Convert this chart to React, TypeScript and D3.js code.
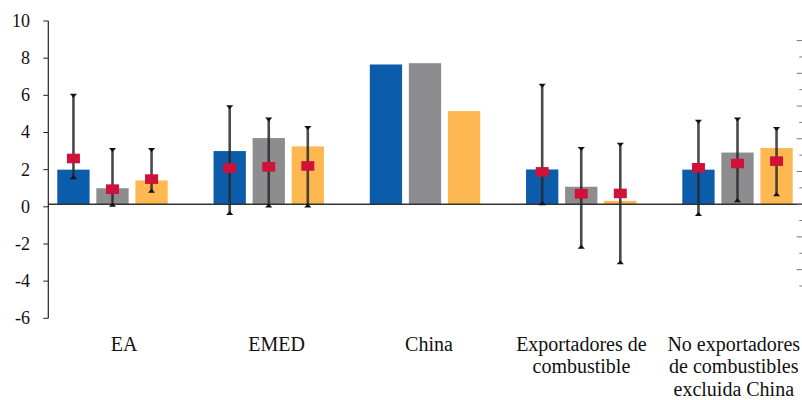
import React from "react";
import * as d3 from "d3";

const categories = ["EA", "EMED", "China", "Exportadores de combustible", "No exportadores de combustibles excluida China"];
const categoryLabelLines = [
  ["EA"],
  ["EMED"],
  ["China"],
  ["Exportadores de", "combustible"],
  ["No exportadores", "de combustibles", "excluida China"],
];
const seriesKeys = ["s1", "s2", "s3"];
const seriesColors = ["#0b5cab", "#8d8d8f", "#fdb851"];

const barValues1 = [2.0, 3.0, 7.66, 2.01, 2.0];
const barValues2 = [1.0, 3.7, 7.73, 1.08, 2.92];
const barValues3 = [1.42, 3.25, 5.15, 0.32, 3.17];

const markerValues1 = [2.6, 2.08, null, 1.88, 2.1];
const markerValues2 = [0.95, 2.15, null, 0.7, 2.33];
const markerValues3 = [1.49, 2.2, null, 0.72, 2.46];

const highValues1 = [6.0, 5.38, null, 6.54, 4.61];
const lowValues1 = [1.56, -0.36, null, 0.16, -0.41];
const highValues2 = [3.09, 4.73, null, 3.14, 4.72];
const lowValues2 = [0.09, 0.05, null, -2.17, 0.32];
const highValues3 = [3.09, 4.27, null, 3.37, 4.21];
const lowValues3 = [0.84, 0.05, null, -3.01, 0.65];

const leftTicks = [-6, -4, -2, 0, 2, 4, 6, 8, 10];
const rightTicks = d3.range(-2.5, 5.01, 0.5);

export default function App() {
  const W = 802, H = 400;
  const y = d3.scaleLinear().domain([-6, 10]).range([318.3, 21]);
  const yR = d3.scaleLinear().domain([-2.5, 5]).range([286, 40.6]);
  const xBars = d3.scaleBand<string>().domain(categories).range([57.3, 57.3 + 781.25]).paddingInner(0).paddingOuter(0);
  const inner = d3.scaleBand<string>().domain(seriesKeys).range([0, 110.4]).paddingInner(0.173).paddingOuter(0);
  const xLabels = d3.scaleBand<string>().domain(categories).range([48, 810]);

  const bars = [barValues1, barValues2, barValues3];
  const markers = [markerValues1, markerValues2, markerValues3];
  const highs = [highValues1, highValues2, highValues3];
  const lows = [lowValues1, lowValues2, lowValues3];
  const base = yR(0);
  const axisX = 48.3;
  const font = "Liberation Serif, DejaVu Serif, Times New Roman, serif";

  return (
    <svg width={W} height={H} style={{ position: "absolute", left: 0, top: 0, background: "#fff" }}>
      {categories.map((c, i) =>
        seriesKeys.map((k, s) => {
          const v = bars[s][i];
          const x0 = (xBars(c) as number) + (inner(k) as number);
          const yt = y(v);
          return (
            <rect key={c + k} x={x0} y={Math.min(yt, base)} width={inner.bandwidth()} height={Math.abs(base - yt)} fill={seriesColors[s]} />
          );
        })
      )}
      <line x1={axisX} x2={W} y1={base} y2={base} stroke="#333" strokeWidth={1.4} />
      <line x1={axisX} x2={axisX} y1={y(10)} y2={y(-6)} stroke="#222" strokeWidth={1.2} />
      {leftTicks.map((t) => (
        <g key={t}>
          <line x1={axisX - 5} x2={axisX} y1={y(t)} y2={y(t)} stroke="#222" strokeWidth={1} />
          <text x={30} y={y(t)} textAnchor="end" dominantBaseline="central" fontFamily={font} fontSize={18} fill="#111">
            {t}
          </text>
        </g>
      ))}
      {rightTicks.map((t, i) => {
        const major = Math.abs(t - Math.round(t)) < 1e-6;
        return (
          <line key={i} x1={major ? 796.7 : 799.3} x2={802} y1={yR(t)} y2={yR(t)} stroke="#777" strokeWidth={1} />
        );
      })}
      {categories.map((c, i) =>
        seriesKeys.map((k, s) => {
          const hi = highs[s][i], lo = lows[s][i];
          if (hi == null || lo == null) return null;
          const cx = (xBars(c) as number) + (inner(k) as number) + inner.bandwidth() / 2;
          const yh = y(hi), yl = y(lo);
          return (
            <g key={"e" + c + k}>
              <line x1={cx} x2={cx} y1={yh} y2={yl} stroke="#2a2a2a" strokeOpacity={0.85} strokeWidth={2.6} />
              <path d={`M${cx - 3.6},${yh - 1.5} L${cx + 3.6},${yh - 1.5} L${cx},${yh + 2.5} Z`} fill="#111" />
              <path d={`M${cx - 3.6},${yl + 1.5} L${cx + 3.6},${yl + 1.5} L${cx},${yl - 2.5} Z`} fill="#111" />
            </g>
          );
        })
      )}
      {categories.map((c, i) =>
        seriesKeys.map((k, s) => {
          const m = markers[s][i];
          if (m == null) return null;
          const cx = (xBars(c) as number) + (inner(k) as number) + inner.bandwidth() / 2;
          return <rect key={"m" + c + k} x={cx - 6.5} y={y(m) - 4.8} width={13} height={9.6} fill="#d0123a" />;
        })
      )}
      {categories.map((c, i) => {
        const cx = (xLabels(c) as number) + xLabels.bandwidth() / 2;
        return (
          <text key={"l" + c} textAnchor="middle" fontFamily={font} fontSize={20} fill="#111">
            {categoryLabelLines[i].map((ln, j) => (
              <tspan key={j} x={cx} y={351 + j * 22.3}>
                {ln}
              </tspan>
            ))}
          </text>
        );
      })}
    </svg>
  );
}
